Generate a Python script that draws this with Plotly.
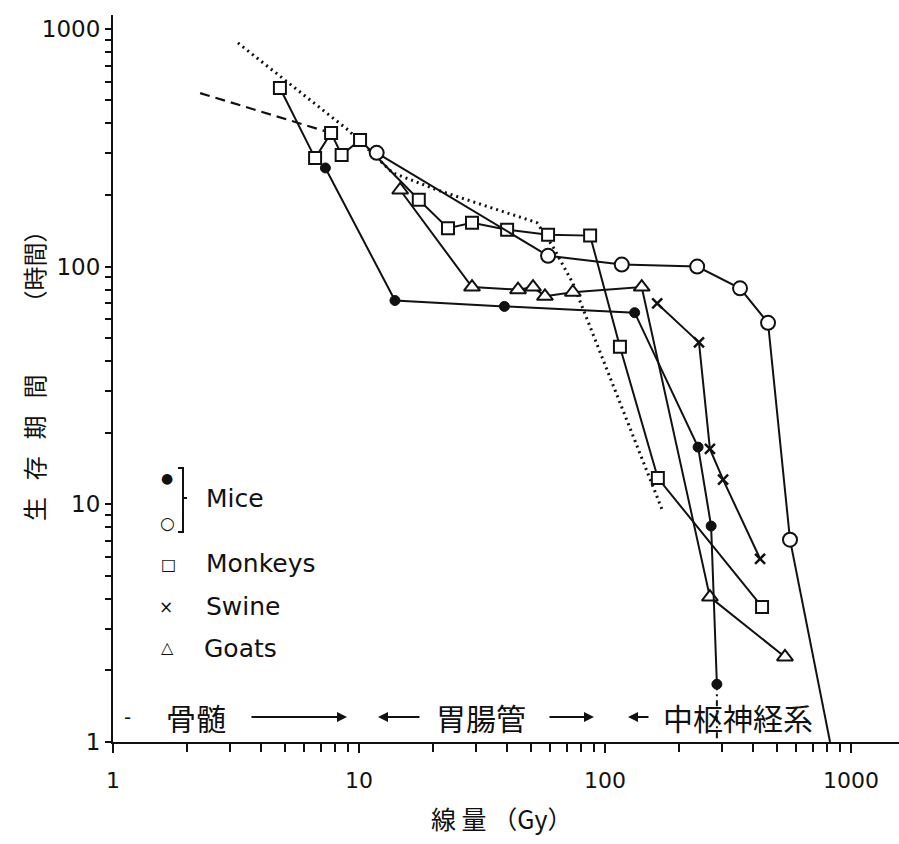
import plotly.graph_objects as go

# ---------------- data (dose in Gy, survival time in hours) ----------------
mice_filled_x = [7.3, 14.0, 39, 132, 239, 270, 285]
mice_filled_y = [260, 72, 68, 64, 17.4, 8.1, 1.75]
mice_filled_tail_x = [285, 285]
mice_filled_tail_y = [1.75, 1.0]

mice_open_x = [11.8, 58.7, 117, 237, 354, 460, 565]
mice_open_y = [301, 111, 102, 100, 81, 58, 7.1]
mice_open_tail_x = [565, 822]
mice_open_tail_y = [7.1, 1.0]

monkeys_x = [4.77, 6.63, 7.7, 8.5, 10.1, 17.5, 23, 28.8, 40, 58.7, 87, 115, 164, 435]
monkeys_y = [564, 286, 365, 295, 341, 191, 145, 153, 143, 136, 135, 46, 12.9, 3.7]

swine_x = [163, 241, 267, 302, 427]
swine_y = [70, 48, 17.1, 12.7, 5.9]

goats_x = [14.7, 28.8, 44.3, 51, 57, 74, 141, 267, 539]
goats_y = [210, 82, 80, 82, 75, 78, 82, 4.07, 2.28]

dashed_x = [2.26, 7.7]
dashed_y = [537, 365]

dotted_x = [3.22, 9.02, 13.7, 20.8, 52.9, 61.5, 74.1, 172]
dotted_y = [873, 376, 248, 210, 153, 121, 85, 9.3]

x_ticks = [1, 10, 100, 1000]
x_ticktext = ["1", "10", "100", "1000"]
y_ticks = [1, 10, 100, 1000]
y_ticktext = ["1", "10", "100", "1000"]

legend_labels = ["Mice", "Monkeys", "Swine", "Goats"]
region_labels = ["骨髄", "胃腸管", "中枢神経系"]
x_title = "線 量 （Gy）"
SP = "\u2002\u2009"
y_title = "生" + SP + "存" + SP + "期" + SP + "間" + "\u3000\u3000\u2002" + "（時間）"

# ---------------- figure ----------------
W, H = 899, 844
L, R, T, B = 113, 0, 15, 102
PW, PH = W - L - R, H - T - B


def px(x):
    return (x - L) / PW


def py(y):
    return (H - B - y) / PH


BLACK = "#111111"
fig = go.Figure()

# reference lines
fig.add_trace(go.Scatter(x=dashed_x, y=dashed_y, mode="lines",
                         line=dict(color=BLACK, width=2.2, dash="10px,6px")))
fig.add_trace(go.Scatter(x=dotted_x, y=dotted_y, mode="lines",
                         line=dict(color=BLACK, width=3, dash="2px,4px")))
fig.add_trace(go.Scatter(x=mice_filled_tail_x, y=mice_filled_tail_y, mode="lines",
                         line=dict(color=BLACK, width=2, dash="6px,4px,2px,4px")))
fig.add_trace(go.Scatter(x=mice_open_tail_x, y=mice_open_tail_y, mode="lines",
                         line=dict(color=BLACK, width=2)))


def series(x, y, symbol, size, filled=False, lw=2):
    fig.add_trace(go.Scatter(
        x=x, y=y, mode="lines+markers",
        line=dict(color=BLACK, width=2),
        marker=dict(symbol=symbol, size=size,
                    color=BLACK if filled else "white",
                    line=dict(color=BLACK, width=lw))))


series(monkeys_x, monkeys_y, "square", 12)
series(goats_x, goats_y, "triangle-up", 14)
series(swine_x, swine_y, "x-thin", 10, lw=2.5)
series(mice_open_x, mice_open_y, "circle", 14)
series(mice_filled_x, mice_filled_y, "circle", 10, filled=True, lw=1)

latin = "DejaVu Sans"
cjk = "Noto Sans CJK JP"

fig.update_layout(
    width=W, height=H,
    margin=dict(l=L, r=R, t=T, b=B),
    paper_bgcolor="white", plot_bgcolor="white",
    showlegend=False,
    font=dict(family=latin, color=BLACK),
    xaxis=dict(type="log", range=[0, (W - L) / 246.0],
               showline=True, linecolor=BLACK, linewidth=2,
               showgrid=False, zeroline=False,
               ticks="outside", ticklen=9, tickwidth=2, tickcolor=BLACK,
               tickvals=x_ticks, ticktext=x_ticktext,
               tickfont=dict(family=latin, size=22, color=BLACK),
               ticklabelstandoff=9,
               minor=dict(ticks="outside", ticklen=8, tickwidth=2, tickcolor=BLACK,
                          dtick="D1", showgrid=False)),
    yaxis=dict(type="log", range=[0, (H - B - T) / 237.7],
               showline=True, linecolor=BLACK, linewidth=2,
               showgrid=False, zeroline=False,
               ticks="outside", ticklen=6, tickwidth=2, tickcolor=BLACK,
               tickvals=y_ticks, ticktext=y_ticktext,
               tickfont=dict(family=latin, size=23, color=BLACK),
               minor=dict(ticks="outside", ticklen=6, tickwidth=2, tickcolor=BLACK,
                          dtick="D1", showgrid=False)),
)

ann = []


def text_ann(t, x, y, size, family, xanchor="center", angle=0):
    ann.append(dict(text=t, x=px(x), y=py(y), xref="paper", yref="paper",
                    xanchor=xanchor, yanchor="middle", textangle=angle,
                    showarrow=False, font=dict(family=family, size=size, color=BLACK)))


# axis titles
text_ann(x_title, 501, 818, 25, cjk)
text_ann(y_title, 33, 370, 24, cjk, angle=-90)

# legend
for s, sx, sy, fs in [("●", 167, 478, 14), ("○", 167, 523, 17), ("□", 168, 564, 16),
                      ("×", 166, 607, 17), ("△", 167, 647, 16)]:
    text_ann(s, sx, sy, fs, latin)
for t, lx, ly in [(legend_labels[0], 204, 498), (legend_labels[1], 204, 563),
                  (legend_labels[2], 204, 606), (legend_labels[3], 202, 648)]:
    text_ann(t, lx, ly, 25, latin, xanchor="left")

# region labels and arrows along bottom
BAND = 717
text_ann("-", 127, BAND, 20, latin)
for t, cx in [(region_labels[0], 196), (region_labels[1], 481), (region_labels[2], 738)]:
    text_ann(t, cx, BAND, 30, cjk)
for head, tail in [(347, 250), (378, 421), (594, 548), (628, 650)]:
    ann.append(dict(text="", x=px(head), y=py(BAND), ax=tail - head, ay=0,
                    xref="paper", yref="paper",
                    showarrow=True, arrowhead=2, arrowsize=1, arrowwidth=2,
                    arrowcolor=BLACK))
fig.update_layout(annotations=ann)

# legend bracket
bx, btop, bbot, bmid = 183, 468, 532, 498
fig.add_shape(type="path", xref="paper", yref="paper",
              path=(f"M {px(bx-5)} {py(btop)} L {px(bx)} {py(btop)} L {px(bx)} {py(bbot)} "
                    f"L {px(bx-5)} {py(bbot)} M {px(bx)} {py(bmid)} L {px(bx+4)} {py(bmid)}"),
              line=dict(color=BLACK, width=2))

fig.write_html("out.html")
